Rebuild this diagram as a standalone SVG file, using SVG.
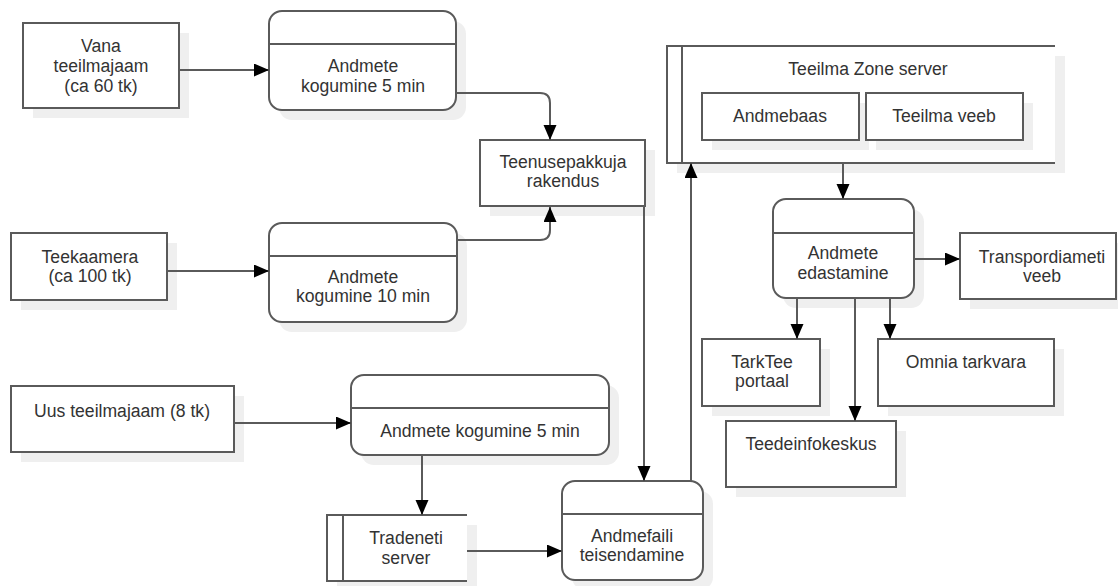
<svg xmlns="http://www.w3.org/2000/svg" width="1118" height="586" viewBox="0 0 1118 586">
  <style>
    .shadow { fill: #efefef; }
    .box { fill: #ffffff; stroke: #5a5a5a; stroke-width: 2; }
    .line { fill: none; stroke: #5a5a5a; stroke-width: 2; }
    .edge { fill: none; stroke: #5a5a5a; stroke-width: 2; marker-end: url(#arrow); }
    .t { font-family: "Liberation Sans", Arial, sans-serif; font-size: 17.6px; fill: #333333; text-anchor: middle; }
  </style>
  <defs>
    <marker id="arrow" markerUnits="userSpaceOnUse" markerWidth="16" markerHeight="14" refX="15" refY="6.5" orient="auto">
      <path d="M0,0 L15,6.5 L0,13 z" fill="#000000"/>
    </marker>
  </defs>
  <rect width="1118" height="586" fill="#ffffff"/>

  <!-- Sources -->
  <g id="vana-teeilmajaam">
    <rect class="shadow" x="33" y="33" width="156" height="85"/>
    <rect class="box" x="23" y="23" width="156" height="85"/>
    <text class="t" x="101" y="52">Vana<tspan x="101" dy="19.8">teeilmajaam</tspan><tspan x="101" dy="19.8">(ca 60 tk)</tspan></text>
  </g>

  <g id="teekaamera">
    <rect class="shadow" x="21" y="243" width="156" height="67"/>
    <rect class="box" x="11" y="233" width="156" height="67"/>
    <text class="t" x="90" y="262.5">Teekaamera<tspan x="90" dy="19.8">(ca 100 tk)</tspan></text>
  </g>

  <g id="uus-teeilmajaam">
    <rect class="shadow" x="21" y="396" width="223" height="66"/>
    <rect class="box" x="11" y="386" width="223" height="66"/>
    <text class="t" x="122" y="417">Uus teeilmajaam (8 tk)</text>
  </g>

  <!-- Collection processes -->
  <g id="kogumine-5-min-a">
    <rect class="shadow" x="279" y="21" width="187" height="99" rx="13"/>
    <rect class="box" x="269" y="11" width="187" height="99" rx="13"/>
    <line class="line" x1="269" y1="44" x2="456" y2="44"/>
    <text class="t" x="363" y="72.2">Andmete<tspan x="363" dy="19.8">kogumine 5 min</tspan></text>
  </g>

  <g id="kogumine-10-min">
    <rect class="shadow" x="279" y="233" width="188" height="99" rx="13"/>
    <rect class="box" x="269" y="223" width="188" height="99" rx="13"/>
    <line class="line" x1="269" y1="256" x2="457" y2="256"/>
    <text class="t" x="363" y="282.6">Andmete<tspan x="363" dy="19.8">kogumine 10 min</tspan></text>
  </g>

  <g id="kogumine-5-min-b">
    <rect class="shadow" x="361" y="385" width="258" height="80" rx="13"/>
    <rect class="box" x="351" y="375" width="258" height="80" rx="13"/>
    <line class="line" x1="351" y1="408" x2="609" y2="408"/>
    <text class="t" x="480" y="437">Andmete kogumine 5 min</text>
  </g>

  <g id="teenusepakkuja">
    <rect class="shadow" x="490" y="150" width="165" height="66"/>
    <rect class="box" x="480" y="140" width="165" height="66"/>
    <text class="t" x="563" y="167.6">Teenusepakkuja<tspan x="563" dy="19.8">rakendus</tspan></text>
  </g>

  <!-- Data store: Tradeneti server -->
  <g id="tradeneti-server">
    <rect class="shadow" x="337" y="525" width="140" height="66"/>
    <rect x="327" y="515" width="140" height="66" fill="#ffffff"/>
    <path class="line" d="M467,515 H327 V581 H467 M343,515 V581"/>
    <text class="t" x="406" y="544.2">Tradeneti<tspan x="406" dy="19.8">server</tspan></text>
  </g>

  <g id="andmefaili-teisendamine">
    <rect class="shadow" x="572" y="491" width="141" height="99" rx="13"/>
    <rect class="box" x="562" y="481" width="141" height="99" rx="13"/>
    <line class="line" x1="562" y1="514" x2="703" y2="514"/>
    <text class="t" x="632" y="541.6">Andmefaili<tspan x="632" dy="19.8">teisendamine</tspan></text>
  </g>

  <!-- Data store: Teeilma Zone server -->
  <g id="teeilma-zone-server">
    <rect class="shadow" x="677" y="56" width="388" height="117"/>
    <rect x="667" y="46" width="388" height="117" fill="#ffffff"/>
    <path class="line" d="M1055,46 H667 V163 H1055 M682,46 V163"/>
    <text class="t" x="868" y="75">Teeilma Zone server</text>
  </g>

  <g id="andmebaas">
    <rect class="shadow" x="712" y="103" width="157" height="47"/>
    <rect class="box" x="702" y="93" width="157" height="47"/>
    <text class="t" x="780" y="122">Andmebaas</text>
  </g>

  <g id="teeilma-veeb">
    <rect class="shadow" x="876" y="103" width="157" height="47"/>
    <rect class="box" x="866" y="93" width="157" height="47"/>
    <text class="t" x="944" y="122">Teeilma veeb</text>
  </g>

  <g id="andmete-edastamine">
    <rect class="shadow" x="783" y="209" width="141" height="99" rx="13"/>
    <rect class="box" x="773" y="199" width="141" height="99" rx="13"/>
    <line class="line" x1="773" y1="233" x2="914" y2="233"/>
    <text class="t" x="843" y="259.2">Andmete<tspan x="843" dy="19.8">edastamine</tspan></text>
  </g>

  <!-- Consumers -->
  <g id="transpordiameti-veeb">
    <rect class="shadow" x="970" y="243" width="156" height="66"/>
    <rect class="box" x="960" y="233" width="156" height="66"/>
    <text class="t" x="1042" y="262.6">Transpordiameti<tspan x="1042" dy="19.8">veeb</tspan></text>
  </g>

  <g id="tarktee-portaal">
    <rect class="shadow" x="712" y="349" width="118" height="67"/>
    <rect class="box" x="702" y="339" width="118" height="67"/>
    <text class="t" x="762" y="367.6">TarkTee<tspan x="762" dy="19.8">portaal</tspan></text>
  </g>

  <g id="omnia-tarkvara">
    <rect class="shadow" x="888" y="349" width="176" height="67"/>
    <rect class="box" x="878" y="339" width="176" height="67"/>
    <text class="t" x="966" y="368">Omnia tarkvara</text>
  </g>

  <g id="teedeinfokeskus">
    <rect class="shadow" x="736" y="431" width="170" height="66"/>
    <rect class="box" x="726" y="421" width="170" height="66"/>
    <text class="t" x="811" y="450">Teedeinfokeskus</text>
  </g>

  <!-- Connectors -->
  <g id="connectors">
    <path class="edge" d="M179,70 H269"/>
    <path class="edge" d="M456,93 H540 Q550,93 550,103 V140"/>
    <path class="edge" d="M167,271 H269"/>
    <path class="edge" d="M457,240 H540 Q550,240 550,230 V207"/>
    <path class="edge" d="M234,423 H351"/>
    <path class="edge" d="M422,455 V515"/>
    <path class="edge" d="M467,551 H562"/>
    <path class="edge" d="M644,206 V481"/>
    <path class="edge" d="M691,481 V163"/>
    <path class="edge" d="M843,163 V199"/>
    <path class="edge" d="M914,259 H960"/>
    <path class="edge" d="M797,298 V339"/>
    <path class="edge" d="M855,298 V421"/>
    <path class="edge" d="M890,298 V339"/>
  </g>
</svg>
